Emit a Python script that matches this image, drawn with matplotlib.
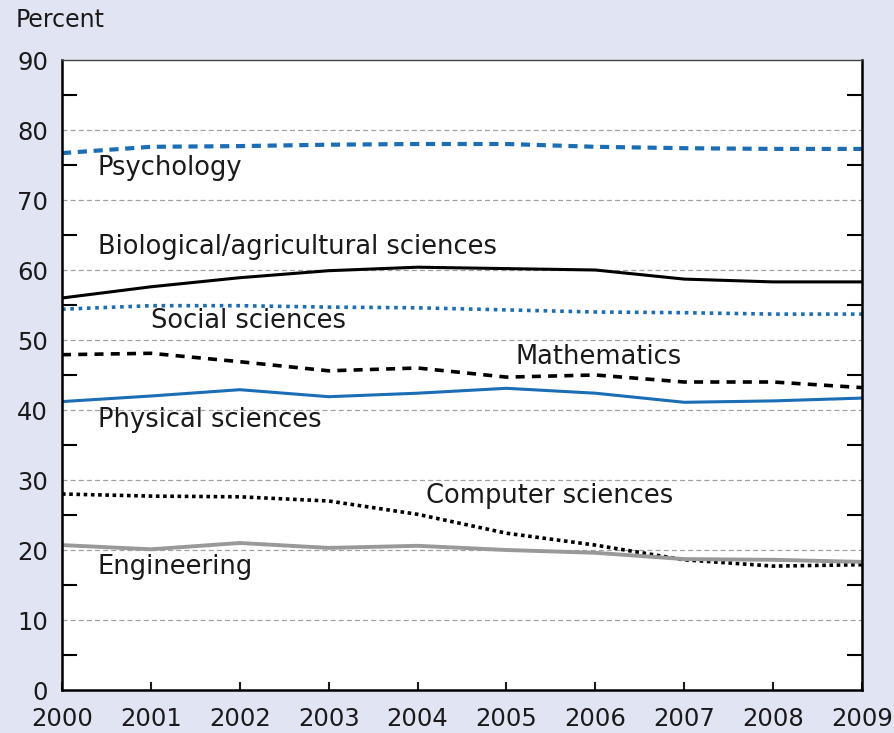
import matplotlib.pyplot as plt
import numpy as np

plt.rcParams['font.family'] = ['DejaVu Sans']

# Share of degrees by field, 2000-2009 (percent)
years = [2000, 2001, 2002, 2003, 2004, 2005, 2006, 2007, 2008, 2009]
psychology = [76.7, 77.6, 77.7, 77.9, 78.0, 78.0, 77.6, 77.4, 77.3, 77.3]
biological = [56.0, 57.6, 58.9, 59.9, 60.4, 60.2, 60.0, 58.7, 58.3, 58.3]
social = [54.4, 54.9, 54.9, 54.7, 54.6, 54.3, 54.0, 53.9, 53.7, 53.7]
mathematics = [47.9, 48.1, 46.9, 45.6, 46.0, 44.7, 45.0, 44.0, 44.0, 43.2]
physical = [41.2, 42.0, 42.9, 41.9, 42.4, 43.1, 42.4, 41.1, 41.3, 41.7]
computer = [28.0, 27.7, 27.6, 27.0, 25.1, 22.4, 20.7, 18.6, 17.7, 17.9]
engineering = [20.7, 20.1, 21.0, 20.3, 20.6, 20.0, 19.6, 18.7, 18.6, 18.3]

blue = '#1b6db5'
bg = '#e1e4f2'
txt = '#1a1a1a'

fig = plt.figure(figsize=(8.95, 7.33), dpi=100)
fig.patch.set_facecolor(bg)
ax = fig.add_axes([62 / 895, 1 - 690 / 733, 800 / 895, 630 / 733])

ax.plot(years, psychology, color=blue, lw=3, ls=(0, (2.2, 1.6)))
ax.plot(years, biological, color='black', lw=2.2, ls='-')
ax.plot(years, social, color=blue, lw=2.6, ls=(0, (1, 1.3)))
ax.plot(years, mathematics, color='black', lw=2.6, ls=(0, (2.5, 2)))
ax.plot(years, physical, color=blue, lw=2.2, ls='-')
ax.plot(years, computer, color='black', lw=2.6, ls=(0, (1, 1)))
ax.plot(years, engineering, color='#999999', lw=2.8, ls='-')

lab = dict(fontsize=18.5, color=txt, va='center', ha='left')
ax.text(2000.4, 74.6, 'Psychology', **lab)
ax.text(2000.4, 63.3, 'Biological/agricultural sciences', **lab)
ax.text(2001.0, 52.7, 'Social sciences', **lab)
ax.text(2005.1, 47.6, 'Mathematics', **lab)
ax.text(2000.4, 38.6, 'Physical sciences', **lab)
ax.text(2004.1, 27.7, 'Computer sciences', **lab)
ax.text(2000.4, 17.6, 'Engineering', **lab)

ax.set_xlim(2000, 2009)
ax.set_ylim(0, 90)
ax.set_xticks(years)
ax.set_yticks(np.arange(0, 91, 10))
ax.set_yticks(np.arange(5, 90, 10), minor=True)
for y in range(10, 90, 10):
    ax.axhline(y, color='#a0a0a0', lw=0.9, ls=(0, (4, 2.5)), zorder=0)

ax.tick_params(axis='x', which='major', direction='in', length=6, width=1.5,
               labelsize=17.5, pad=12, colors=txt)
ax.tick_params(axis='y', which='major', length=0, labelsize=17.5, pad=10, colors=txt)
ax.tick_params(axis='y', which='minor', direction='in', length=11, width=1.5,
               left=True, right=True)

for side in ['left', 'bottom', 'right']:
    ax.spines[side].set_linewidth(1.8)
ax.spines['top'].set_linewidth(1.0)
ax.spines['top'].set_color('#444444')

fig.text(16 / 895, 1 - 20 / 733, 'Percent', fontsize=17, color=txt, va='center', ha='left')

plt.savefig('out.png', dpi=100, facecolor=bg)
